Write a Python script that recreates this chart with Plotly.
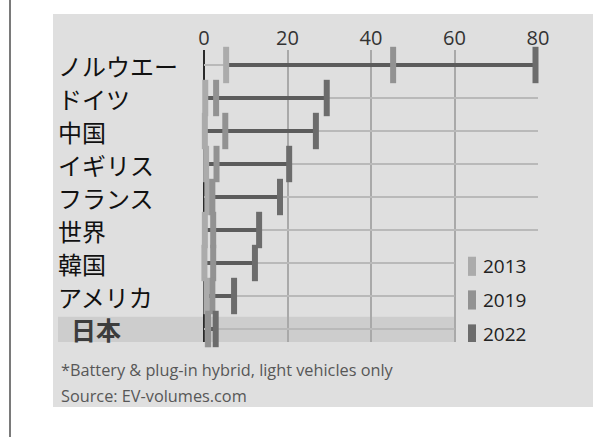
import plotly.graph_objects as go

# ---- data ----
countries = ["ノルウエー", "ドイツ", "中国", "イギリス", "フランス", "世界", "韓国", "アメリカ", "日本"]
share_2013 = [5.3, 0.3, 0.2, 0.5, 0.8, 0.2, 0.1, 0.6, 0.9]
share_2019 = [45.3, 2.9, 5.1, 3.0, 2.0, 2.2, 2.2, 2.0, 1.0]
share_2022 = [79.4, 29.4, 26.8, 20.4, 18.2, 13.2, 12.2, 7.2, 2.8]
years = ["2013", "2019", "2022"]
x_ticks = [0, 20, 40, 60, 80]
row_line_end = [80, 80, 80, 80, 80, 80, 60, 60, 60]
footnotes = ["*Battery & plug-in hybrid, light vehicles only", "Source: EV-volumes.com"]

W, H = 593, 437
ML, MR, MT, MB = 204, 55, 50, 95
PW, PH = W - ML - MR, H - MT - MB

year_colors = ["#ababab", "#929292", "#6c6c6c"]
rows = list(range(len(countries)))

def px_x(p):
    return (p - ML) / PW

def px_y(p):
    return (H - MB - p) / PH

fig = go.Figure()

# row grid lines
gx, gy = [], []
for i, e in zip(rows, row_line_end):
    gx += [0, e, None]
    gy += [i, i, None]
fig.add_trace(go.Scatter(x=gx, y=gy, mode="lines", line=dict(color="#b9b9b9", width=2),
                         hoverinfo="skip", showlegend=False))

# connectors 2013 -> 2022
cx, cy = [], []
for i, a, c in zip(rows, share_2013, share_2022):
    cx += [a, c, None]
    cy += [i, i, None]
fig.add_trace(go.Scatter(x=cx, y=cy, mode="lines", line=dict(color="#5c5c5c", width=4),
                         hoverinfo="skip", showlegend=False))

for yr, vals, col in zip(years, [share_2013, share_2019, share_2022], year_colors):
    fig.add_trace(go.Scatter(
        x=vals, y=rows, mode="markers", name=yr, showlegend=False, cliponaxis=False,
        marker=dict(symbol="line-ns", size=26, line=dict(color=col, width=6))))

shapes = []
# grey panel
shapes.append(dict(type="rect", xref="paper", yref="paper", layer="below",
                   x0=px_x(53), x1=px_x(600), y0=px_y(407), y1=px_y(14),
                   fillcolor="#dfdfdf", line=dict(width=0)))
# left rule
shapes.append(dict(type="line", xref="paper", yref="paper", layer="below",
                   x0=px_x(10), x1=px_x(10), y0=px_y(440), y1=px_y(-3),
                   line=dict(color="#7a7a7a", width=2)))
# Japan highlight band
shapes.append(dict(type="rect", xref="paper", yref="y", layer="below",
                   x0=px_x(58), x1=60 / 80, y0=rows[-1] - 0.37, y1=rows[-1] + 0.394,
                   fillcolor="#cdcdcd", line=dict(width=0)))

annotations = []
for i, name in zip(rows, countries):
    if name == "日本":
        annotations.append(dict(xref="paper", yref="y", x=px_x(69), y=i, text="<b>" + name + "</b>",
                                showarrow=False, xanchor="left", yanchor="middle",
                                font=dict(family="Noto Sans CJK JP", size=25, color="#3c3c3c")))
    else:
        annotations.append(dict(xref="paper", yref="y", x=px_x(56), y=i, text=name,
                                showarrow=False, xanchor="left", yanchor="middle",
                                font=dict(family="Noto Sans CJK JP", size=24, color="#111111")))

# legend (swatches + labels)
legend_y = [6.1, 7.12, 8.15]
for yr, col, ly in zip(years, year_colors, legend_y):
    shapes.append(dict(type="rect", xref="paper", yref="y", layer="above",
                       x0=px_x(468), x1=px_x(476), y0=ly - 0.29, y1=ly + 0.29,
                       fillcolor=col, line=dict(width=0)))
    annotations.append(dict(xref="paper", yref="y", x=px_x(481), y=ly, text=yr,
                            showarrow=False, xanchor="left", yanchor="middle",
                            font=dict(family="Open Sans", size=19, color="#222222")))

for txt, py in zip(footnotes, [370, 396]):
    annotations.append(dict(xref="paper", yref="paper", x=px_x(59), y=px_y(py), text=txt,
                            showarrow=False, xanchor="left", yanchor="middle",
                            font=dict(family="Open Sans", size=16.3, color="#575757")))

fig.update_layout(
    width=W, height=H, autosize=False,
    margin=dict(l=ML, r=MR, t=MT, b=MB, pad=0),
    paper_bgcolor="white", plot_bgcolor="rgba(0,0,0,0)",
    shapes=shapes, annotations=annotations,
    showlegend=False,
    xaxis=dict(range=[0, 80], side="top", tickvals=x_ticks, ticktext=[str(t) for t in x_ticks],
               showgrid=True, gridcolor="#a9a9a9", gridwidth=1.5,
               zeroline=True, zerolinecolor="#2a2a2a", zerolinewidth=1.5,
               showline=False, ticks="", fixedrange=True,
               tickfont=dict(family="Open Sans", size=20, color="#333333")),
    yaxis=dict(range=[8.394, -0.4545], showgrid=False, zeroline=False, showticklabels=False,
               showline=False, ticks="", fixedrange=True),
)

fig.write_html("out.html")
